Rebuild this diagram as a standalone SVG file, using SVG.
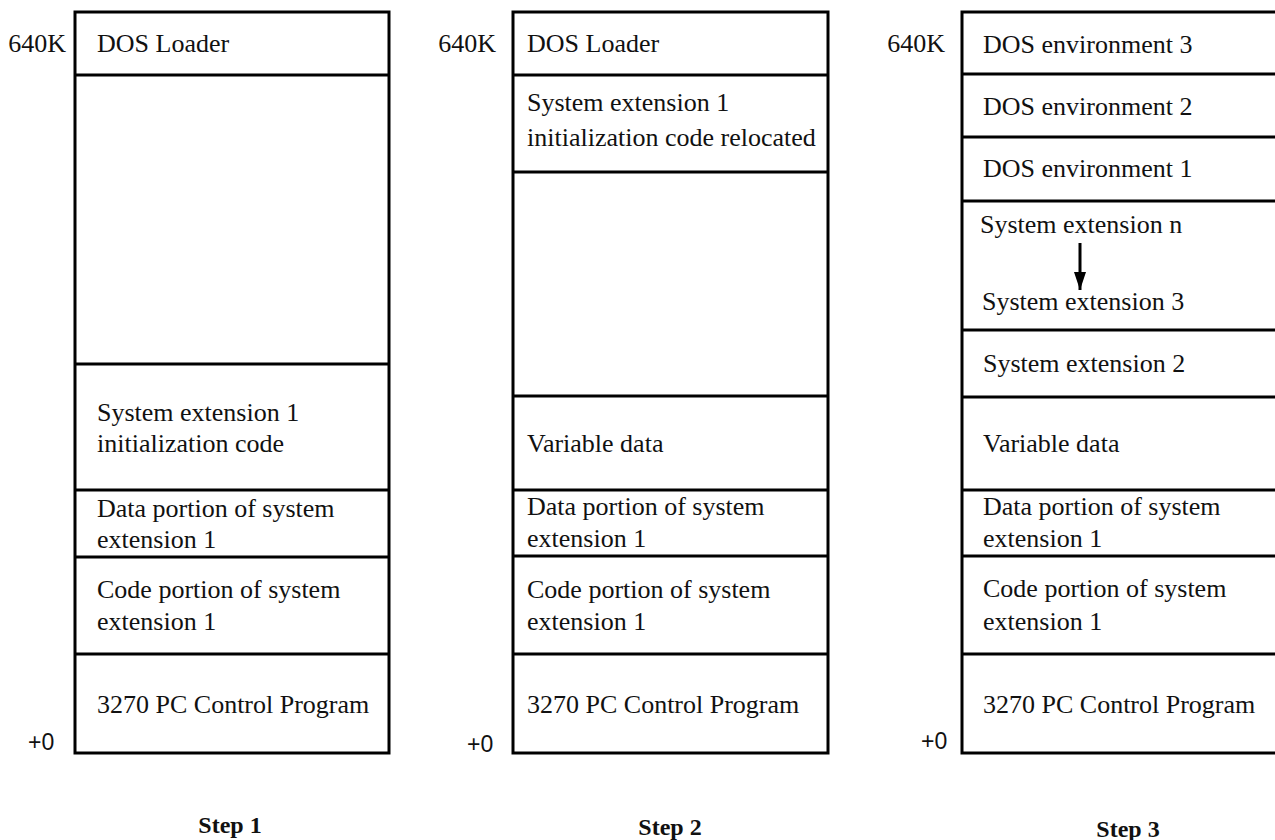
<svg xmlns="http://www.w3.org/2000/svg" width="1275" height="840" viewBox="0 0 1275 840">
  <style>
    .box { fill: #ffffff; stroke: #000000; stroke-width: 3; }
    .div { stroke: #000000; stroke-width: 3; }
    .lbl { font-family: "Liberation Serif", "Times New Roman", serif; font-size: 26px; fill: #111111; }
    .addr { font-family: "Liberation Serif", "Times New Roman", serif; font-size: 26px; fill: #111111; }
    .zero { font-family: "Liberation Sans", Arial, sans-serif; font-size: 23px; fill: #111111; }
    .step { font-family: "Liberation Serif", "Times New Roman", serif; font-size: 24px; font-weight: bold; fill: #111111; text-anchor: middle; }
  </style>
  <defs>
    <marker id="arrowhead" viewBox="0 0 18 12" refX="18" refY="6" markerWidth="18" markerHeight="12" markerUnits="userSpaceOnUse" orient="auto">
      <path d="M0,0 L18,6 L0,12 Z" fill="#000000"/>
    </marker>
  </defs>
  <rect width="1275" height="840" fill="#ffffff"/>

  <!-- Step 1 memory map -->
  <g id="step1">
    <rect class="box" x="75" y="12" width="314" height="741"/>
    <line class="div" x1="75" y1="75" x2="389" y2="75"/>
    <line class="div" x1="75" y1="364" x2="389" y2="364"/>
    <line class="div" x1="75" y1="490" x2="389" y2="490"/>
    <line class="div" x1="75" y1="557" x2="389" y2="557"/>
    <line class="div" x1="75" y1="654" x2="389" y2="654"/>
    <text class="addr" x="66" y="52" text-anchor="end">640K</text>
    <text class="zero" x="28" y="750">+0</text>
    <text class="lbl" x="97" y="52">DOS Loader</text>
    <text class="lbl" x="97" y="421">System extension 1</text>
    <text class="lbl" x="97" y="452">initialization code</text>
    <text class="lbl" x="97" y="517">Data portion of system</text>
    <text class="lbl" x="97" y="548">extension 1</text>
    <text class="lbl" x="97" y="598">Code portion of system</text>
    <text class="lbl" x="97" y="630">extension 1</text>
    <text class="lbl" x="97" y="713">3270 PC Control Program</text>
    <text class="step" x="230" y="833">Step 1</text>
  </g>

  <!-- Step 2 memory map -->
  <g id="step2">
    <rect class="box" x="513" y="12" width="315" height="741"/>
    <line class="div" x1="513" y1="75" x2="828" y2="75"/>
    <line class="div" x1="513" y1="172" x2="828" y2="172"/>
    <line class="div" x1="513" y1="396" x2="828" y2="396"/>
    <line class="div" x1="513" y1="490" x2="828" y2="490"/>
    <line class="div" x1="513" y1="556" x2="828" y2="556"/>
    <line class="div" x1="513" y1="654" x2="828" y2="654"/>
    <text class="addr" x="496" y="52" text-anchor="end">640K</text>
    <text class="zero" x="467" y="752">+0</text>
    <text class="lbl" x="527" y="52">DOS Loader</text>
    <text class="lbl" x="527" y="111">System extension 1</text>
    <text class="lbl" x="527" y="146">initialization code relocated</text>
    <text class="lbl" x="527" y="452">Variable data</text>
    <text class="lbl" x="527" y="515">Data portion of system</text>
    <text class="lbl" x="527" y="547">extension 1</text>
    <text class="lbl" x="527" y="598">Code portion of system</text>
    <text class="lbl" x="527" y="630">extension 1</text>
    <text class="lbl" x="527" y="713">3270 PC Control Program</text>
    <text class="step" x="670" y="835">Step 2</text>
  </g>

  <!-- Step 3 memory map (right side runs past the page edge) -->
  <g id="step3">
    <rect class="box" x="962" y="12" width="330" height="741"/>
    <line class="div" x1="962" y1="74" x2="1292" y2="74"/>
    <line class="div" x1="962" y1="137" x2="1292" y2="137"/>
    <line class="div" x1="962" y1="201" x2="1292" y2="201"/>
    <line class="div" x1="962" y1="330" x2="1292" y2="330"/>
    <line class="div" x1="962" y1="397" x2="1292" y2="397"/>
    <line class="div" x1="962" y1="490" x2="1292" y2="490"/>
    <line class="div" x1="962" y1="556" x2="1292" y2="556"/>
    <line class="div" x1="962" y1="654" x2="1292" y2="654"/>
    <text class="addr" x="945" y="52" text-anchor="end">640K</text>
    <text class="zero" x="921" y="749">+0</text>
    <text class="lbl" x="983" y="53">DOS environment 3</text>
    <text class="lbl" x="983" y="115">DOS environment 2</text>
    <text class="lbl" x="983" y="177">DOS environment 1</text>
    <text class="lbl" x="980" y="233">System extension n</text>
    <text class="lbl" x="982" y="310">System extension 3</text>
    <text class="lbl" x="983" y="372">System extension 2</text>
    <text class="lbl" x="983" y="452">Variable data</text>
    <text class="lbl" x="983" y="515">Data portion of system</text>
    <text class="lbl" x="983" y="547">extension 1</text>
    <text class="lbl" x="983" y="597">Code portion of system</text>
    <text class="lbl" x="983" y="630">extension 1</text>
    <text class="lbl" x="983" y="713">3270 PC Control Program</text>
    <text class="step" x="1128" y="837">Step 3</text>
  </g>

  <!-- connectors -->
  <g id="connectors">
    <line x1="1080" y1="243" x2="1080" y2="290" stroke="#000000" stroke-width="3" marker-end="url(#arrowhead)"/>
  </g>
</svg>
